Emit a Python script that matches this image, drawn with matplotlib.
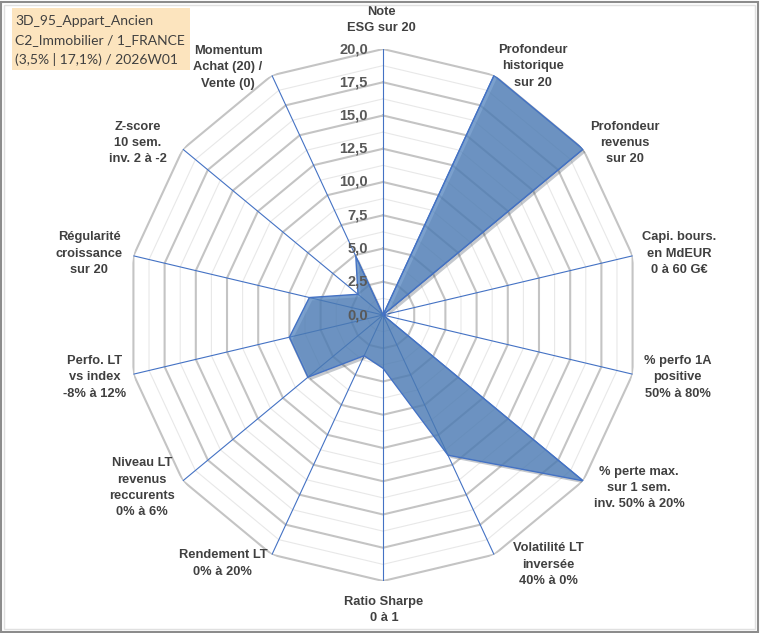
import numpy as np
import matplotlib
matplotlib.use("Agg")
import matplotlib.pyplot as plt
from matplotlib.patches import Rectangle
import matplotlib.patheffects as pe

# ---- data ----
categories = [
    "Note\nESG sur 20",
    "Profondeur\nhistorique\nsur 20",
    "Profondeur\nrevenus\nsur 20",
    "Capi. bours.\nen MdEUR\n0 à 60 G€",
    "% perfo 1A\npositive\n50% à 80%",
    "% perte max.\nsur 1 sem.\ninv. 50% à 20%",
    "Volatilité LT\ninversée\n40% à 0%",
    "Ratio Sharpe\n0 à 1",
    "Rendement LT\n0% à 20%",
    "Niveau LT\nrevenus\nreccurents\n0% à 6%",
    "Perfo. LT\nvs index\n-8% à 12%",
    "Régularité\ncroissance\nsur 20",
    "Z-score\n10 sem.\ninv. 2 à -2",
    "Momentum\nAchat (20) /\nVente (0)",
]
values = [0, 20, 20, 0, 0, 20, 11.7, 4.0, 3.4, 7.5, 7.5, 5.9, 2.5, 4.9]
tick_values = [0, 2.5, 5, 7.5, 10, 12.5, 15, 17.5, 20]
tick_labels = ["0,0", "2,5", "5,0", "7,5", "10,0", "12,5", "15,0", "17,5", "20,0"]
minor_values = [1.25, 3.75, 6.25, 8.75, 11.25, 13.75, 16.25, 18.75]
title_lines = ["3D_95_Appart_Ancien", "C2_Immobilier / 1_FRANCE", "(3,5% | 17,1%) / 2026W01"]

# label offsets (pixels) from end of each spoke
label_offsets = [(-2, 29), (39, 9), (42, 6), (47, 2), (45, -3), (56, -7), (54, -10),
                 (1, -29), (-49, -9), (-41, -7), (-39, -3), (-44, 2), (-45, 6), (-44, 8)]

W, H = 760, 633
fig = plt.figure(figsize=(W / 100, H / 100), dpi=100)
fig.patch.set_facecolor("white")

cx, cy = 383, 315
rx, ry = 256, 266
ax = fig.add_axes([(cx - rx) / W, (H - cy - ry) / H, 2 * rx / W, 2 * ry / H],
                  projection="polar")
ax.set_aspect("auto")
ax.set_theta_zero_location("N")
ax.set_theta_direction(-1)
ax.set_ylim(0, 20)
ax.grid(False)
ax.spines["polar"].set_visible(False)
ax.set_xticks([])
ax.set_yticks([])
ax.patch.set_alpha(0)

n = len(categories)
theta = np.arange(n) * 2 * np.pi / n
theta_c = np.append(theta, theta[0])

for r in minor_values:
    ax.plot(theta_c, [r] * (n + 1), color="#E8E8E8", lw=0.8, zorder=1)
for r in tick_values[1:]:
    ax.plot(theta_c, [r] * (n + 1), color="#C4C4C4", lw=1.5, zorder=2)
for t in theta:
    ax.plot([t, t], [0, 20], color="#4472C4", lw=0.8, zorder=3)

vals_c = np.append(values, values[0])
ax.fill(theta_c, vals_c, facecolor="#4F81BD", alpha=0.75, zorder=4,
        path_effects=[pe.SimplePatchShadow(offset=(2, -2), alpha=0.25), pe.Normal()])
ax.plot(theta_c, vals_c, color="#4472C4", lw=1.0, zorder=5)

for v, lab in zip(tick_values, tick_labels):
    ax.annotate(lab, xy=(0, v), xytext=(-15, 0), textcoords="offset pixels",
                ha="right", va="center", fontsize=10.5, fontweight="bold",
                color="#595959", family="Liberation Sans", zorder=6)

for t, lab, off in zip(theta, categories, label_offsets):
    ax.annotate(lab, xy=(t, 20), xytext=off, textcoords="offset pixels",
                ha="center", va="center", fontsize=9.3, fontweight="bold",
                color="#404040", family="Liberation Sans", linespacing=1.48,
                annotation_clip=False)

# title box
fig.patches.append(Rectangle((12 / W, 1 - 70 / H), 178 / W, 62 / H,
                             transform=fig.transFigure, facecolor="#FCE4BE",
                             edgecolor="none", zorder=0))
for i, line in enumerate(title_lines):
    fig.text(15 / W, 1 - (21 + 19 * i) / H, line, ha="left", va="center",
             fontsize=10, color="#404040", family="Lato")

# outer border
fig.patches.append(Rectangle((1 / W, 1 / H), (W - 3) / W, (H - 3) / H,
                             transform=fig.transFigure, facecolor="none",
                             edgecolor="#8C8C8C", lw=1.5))
fig.patches.append(Rectangle((4 / W, 4 / H), (W - 9) / W, (H - 9) / H,
                             transform=fig.transFigure, facecolor="none",
                             edgecolor="#E0E0E0", lw=1.0))

fig.savefig("out.png", dpi=100)
